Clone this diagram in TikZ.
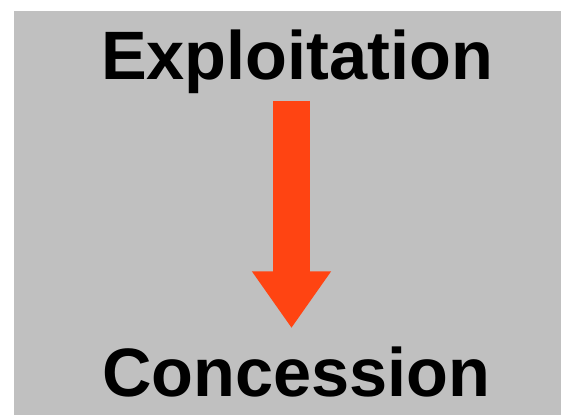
\documentclass[tikz,border=0pt]{standalone}
\usepackage{fontspec}
\setmainfont{Liberation Sans}
\usepackage{xcolor}
\usetikzlibrary{arrows.meta}
\definecolor{panelgray}{HTML}{C0C0C0}
\definecolor{flame}{HTML}{FF4412}

\begin{document}
\begin{tikzpicture}[x=1pt, y=1pt]
\useasboundingbox (0,0) rectangle (562,415);
\fill[panelgray] (13.5,0) rectangle (561,404);
\tikzset{bigword/.style={inner sep=0pt, anchor=base, font=\bfseries\fontsize{68.5}{80}\selectfont}}
\node[bigword] (expl) at (297,335) {Exploitation};
\node[bigword] (conc) at (296.5,19) {Concession};
\draw[flame, line width=37.6pt, -{Triangle[width=75pt, length=56.7pt]}, shorten <=6.5pt, shorten >=18pt]
  ([xshift=-5.5pt]expl.south) -- ([xshift=-5pt]conc.north);
\end{tikzpicture}
\end{document}
